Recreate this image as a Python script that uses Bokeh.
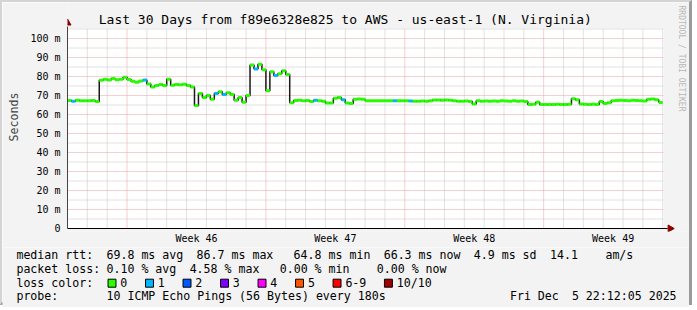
import numpy as np
from bokeh.plotting import figure
from bokeh.layouts import column
from bokeh.models import FixedTicker, Range1d, ColumnDataSource
from bokeh.core.properties import value
from bokeh.embed import file_html
from bokeh.resources import INLINE

# ---------------- data ----------------
step_days = 0.2
median_ms = [
    67.4, 67.0, 67.5, 67.3, 67.2, 67.3, 67.4, 66.8, 78.0, 78.6,
    78.2, 79.0, 78.3, 78.6, 79.6, 78.4, 77.5, 77.0, 77.6, 78.2,
    76.0, 74.5, 75.3, 75.8, 75.2, 78.5, 75.4, 75.8, 75.6, 75.9,
    75.2, 74.5, 64.8, 71.0, 69.0, 70.0, 68.0, 71.0, 72.0, 70.5,
    71.5, 70.5, 67.5, 69.0, 66.5, 70.0, 86.0, 84.0, 86.5, 83.5,
    72.5, 82.5, 80.5, 81.5, 83.0, 81.0, 66.2, 67.4, 67.5, 67.3,
    67.4, 66.8, 67.5, 67.3, 67.0, 66.0, 66.0, 68.5, 69.0, 67.8,
    66.0, 65.8, 68.0, 68.2, 68.0, 67.3, 67.2, 67.2, 67.3, 67.2,
    67.2, 67.2, 67.3, 67.2, 67.3, 67.2, 67.1, 67.0, 67.0, 67.1,
    67.0, 67.2, 67.6, 67.6, 67.5, 67.6, 67.5, 67.2, 67.0, 67.0,
    67.1, 66.8, 65.5, 67.2, 67.0, 67.1, 67.0, 67.1, 67.0, 67.2,
    67.1, 67.0, 67.2, 67.0, 67.1, 66.9, 65.3, 65.4, 66.5, 65.3,
    65.3, 65.3, 65.3, 65.4, 65.3, 65.3, 65.4, 68.3, 67.8, 65.5,
    65.4, 65.3, 65.4, 65.3, 66.8, 65.8, 66.2, 67.3, 67.4, 67.5,
    67.4, 67.3, 67.5, 67.4, 67.3, 67.1, 68.0, 68.2, 67.8, 66.3,
]
loss_blue_idx = [1, 19, 37, 39, 47, 52, 62, 69, 82, 86]

y_ticks = [0, 10, 20, 30, 40, 50, 60, 70, 80, 90, 100]
y_tick_labels = ["0", "10 m", "20 m", "30 m", "40 m", "50 m", "60 m", "70 m", "80 m", "90 m", "100 m"]
y_minor = [5, 15, 25, 35, 45, 55, 65, 75, 85, 95, 105]
week_pos = [6.5, 13.5, 20.5, 27.5]
week_labels = ["Week 46", "Week 47", "Week 48", "Week 49"]
week_starts = [3, 10, 17, 24]
day_lines = [d for d in range(1, 31) if d not in week_starts]

loss_labels = ["0", "1", "2", "3", "4", "5", "6-9", "10/10"]
loss_colors = ["#26ff00", "#00b8ff", "#0059ff", "#7e00ff", "#ff00ff", "#ff5500", "#ff0000", "#a10000"]

title_text = "Last 30 Days from f89e6328e825 to AWS - us-east-1 (N. Virginia)"
rtt_avg, rtt_max, rtt_min, rtt_now, rtt_sd, rtt_ams = 69.8, 86.7, 64.8, 66.3, 4.9, 14.1
loss_avg, loss_max, loss_min, loss_now = 0.10, 4.58, 0.00, 0.00
probe_text = "10 ICMP Echo Pings (56 Bytes) every 180s"
stamp_date, stamp_time = "Fri Dec", "5 22:12:05 2025"

# ---------------- geometry (canvas px) ----------------
MONO = "DejaVu Sans Mono"
BL, BT, BR, BB = 2, 2, 3, 3           # outer 3D border
W, H = 697, 310
PX_DAY, PX_MS = 20.0, 1.9
FRAME_L, FRAME_B, PLOT_TOP = 67, 231, 28
ZERO_Y = 228
A_BOTTOM = 247
X_END = 30.05                          # days shown
Y_END = (ZERO_Y - PLOT_TOP) / PX_MS    # ms shown

wA = W - BL - BR
hA = A_BOTTOM - BT
hB = H - BB - A_BOTTOM

t_days = np.arange(len(median_ms)) * step_days
loss = np.zeros(len(median_ms), dtype=int)
loss[loss_blue_idx] = 1
src = ColumnDataSource(dict(t=t_days, t1=t_days + step_days, y=median_ms,
                            c=[loss_colors[k] for k in loss]))

# ---------------- main chart ----------------
pA = figure(width=wA, height=hA, output_backend="svg", toolbar_location=None, title=None,
            x_range=Range1d(0, (W - BR - FRAME_L) / PX_DAY),
            y_range=Range1d(-(FRAME_B - ZERO_Y) / PX_MS, (ZERO_Y - BT) / PX_MS),
            min_border_left=FRAME_L - BL, min_border_right=0, min_border_top=0,
            min_border_bottom=A_BOTTOM - FRAME_B, frame_align=False)
pA.background_fill_color = "#f3f3f3"
pA.border_fill_color = "#f3f3f3"
pA.outline_line_color = None
pA.grid.visible = False

# plot area
pA.quad(left=0, right=X_END, bottom=0, top=Y_END, fill_color="white", line_color=None)
# grid lines
pA.segment(x0=day_lines, x1=day_lines, y0=0, y1=Y_END, line_color="#c4c4c4", line_dash="1 1", line_width=1)
pA.segment(x0=0, x1=X_END, y0=y_minor, y1=y_minor, line_color="#c4c4c4", line_dash="1 1", line_width=1)
pA.segment(x0=week_starts, x1=week_starts, y0=0, y1=Y_END, line_color="#eba0a0", line_dash="1 1", line_width=1)
pA.segment(x0=0, x1=X_END, y0=y_ticks[1:], y1=y_ticks[1:], line_color="#eba0a0", line_dash="1 1", line_width=1)

# data
pA.step("t", "y", source=src, mode="after", line_color="#1a1a1a", line_width=1.5)
pA.segment(x0="t", x1="t1", y0="y", y1="y", source=src, line_color="c", line_width=3)

# axes
pA.yaxis.ticker = FixedTicker(ticks=y_ticks)
pA.yaxis.major_label_overrides = dict(zip(y_ticks, y_tick_labels))
pA.yaxis.bounds = (0, (ZERO_Y - 26) / PX_MS)
pA.yaxis.axis_label = "Seconds"
pA.yaxis.axis_label_text_font = MONO
pA.yaxis.axis_label_text_font_size = "11.6px"
pA.yaxis.axis_label_text_font_style = "normal"
pA.yaxis.axis_label_standoff = 6
pA.yaxis.major_label_standoff = 7
pA.yaxis.axis_line_color = "#444444"

pA.xaxis.ticker = FixedTicker(ticks=week_pos)
pA.xaxis.major_label_overrides = dict(zip(week_pos, week_labels))
pA.xaxis.major_label_standoff = 1
pA.xaxis.axis_line_color = None
for ax in (pA.xaxis, pA.yaxis):
    ax.major_label_text_font = MONO
    ax.major_label_text_font_size = "10px"
    ax.major_label_text_color = "black"
    ax.major_tick_line_color = None
    ax.minor_tick_line_color = None
    ax.major_tick_out = 0
    ax.major_tick_in = 0
    ax.minor_tick_out = 0
    ax.minor_tick_in = 0

# x axis rule at zero (the axis panel sits just below it) and arrow heads
pA.segment(x0=[-0.25], x1=[(672 - FRAME_L) / PX_DAY], y0=[0], y1=[0], line_color="black", line_width=1)
pA.scatter(x=[0], y=[(ZERO_Y - 22.5) / PX_MS], marker="triangle", size=7,
           fill_color="#8b0000", line_color="#8b0000")
pA.scatter(x=[(674.5 - FRAME_L) / PX_DAY], y=[0], marker="triangle", size=7, angle=-np.pi / 2,
           fill_color="#8b0000", line_color="#8b0000")

# title and watermark
pA.text(x=[(347 - FRAME_L) / PX_DAY], y=[(ZERO_Y - 19) / PX_MS], text=[title_text],
        text_font=value(MONO), text_font_size=value("13px"), text_align="center",
        text_baseline="middle", text_color="black")
pA.text(x=[(686 - FRAME_L) / PX_DAY], y=[(ZERO_Y - 5) / PX_MS], text=["RRDTOOL / TOBI OETIKER"],
        text_font=value(MONO), text_font_size=value("8px"), text_align="left",
        text_baseline="middle", angle=-np.pi / 2, text_color="#b8b8b8")

# ---------------- legend block ----------------
pB = figure(width=wA, height=hB, output_backend="svg", toolbar_location=None, title=None,
            x_range=Range1d(BL, W - BR), y_range=Range1d(H - BB, A_BOTTOM),
            x_axis_location=None, y_axis_location=None, frame_align=False,
            min_border_left=0, min_border_right=0, min_border_top=0, min_border_bottom=0)
pB.background_fill_color = "#f3f3f3"
pB.border_fill_color = "#f3f3f3"
pB.outline_line_color = None
pB.grid.visible = False

CH = 6.98
X0 = 16
rows = [
    (254.3, [("median rtt:", 0), ("%.1f ms avg" % rtt_avg, 13), ("%.1f ms max" % rtt_max, 26),
             ("%.1f ms min" % rtt_min, 40), ("%.1f ms now" % rtt_now, 53),
             ("%.1f ms sd" % rtt_sd, 66), ("%.1f" % rtt_ams, 77), ("am/s", 85)]),
    (268.3, [("packet loss:", 0), ("%.2f %% avg" % loss_avg, 13), ("%.2f %% max" % loss_max, 25),
             ("%.2f %% min" % loss_min, 38), ("%.2f %% now" % loss_now, 52)]),
    (282.3, [("loss color:", 0)]),
    (295.7, [("probe:", 0), (probe_text, 13)]),
]
tx, ty, tt = [], [], []
for yy, toks in rows:
    for s, col in toks:
        tx.append(X0 + col * CH)
        ty.append(yy)
        tt.append(s)

# loss colour boxes and labels
bx = 108.3
box_l, box_lab_x = [], []
for lab in loss_labels:
    box_l.append(bx)
    box_lab_x.append(bx + 12.4)
    bx += 12.4 + CH * len(lab) + 18.4
tx += box_lab_x
ty += [282.3] * len(loss_labels)
tt += loss_labels

pB.text(x=tx, y=ty, text=tt, text_font=value(MONO), text_font_size=value("11.6px"),
        text_align="left", text_baseline="middle", text_color="black")
pB.text(x=[681, 681 - 17 * CH], y=[295.7, 295.7], text=[stamp_time, stamp_date],
        text_font=value(MONO), text_font_size=value("11.6px"), text_align="right",
        text_baseline="middle", text_color="black")
pB.quad(left=box_l, right=[b + 8 for b in box_l], top=[278.7] * len(box_l),
        bottom=[286.7] * len(box_l), fill_color=loss_colors, line_color="black", line_width=1)

layout = column(pA, pB, spacing=0, styles={
    "border-top": "%dpx solid #d4d4d4" % BT, "border-left": "%dpx solid #d4d4d4" % BL,
    "border-right": "%dpx solid #9c9c9c" % BR, "border-bottom": "%dpx solid #9c9c9c" % BB,
    "width": "%dpx" % wA, "height": "%dpx" % (hA + hB),
})

open("out.html", "w").write(file_html(layout, INLINE))
